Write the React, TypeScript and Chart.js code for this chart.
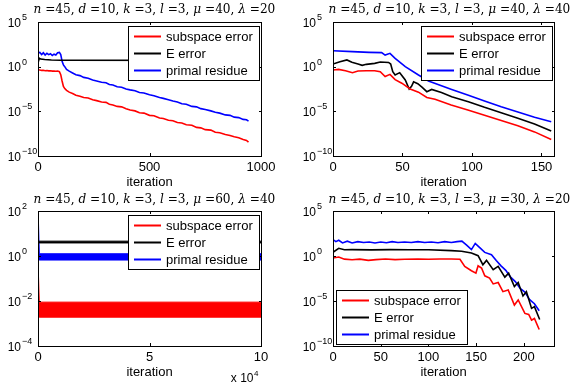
import React, { useEffect, useRef } from "react";
import { Chart, registerables } from "chart.js";
Chart.register(...registerables);

// ---------- shared ----------
const seriesLabels = ["subspace error", "E error", "primal residue"];
const seriesColors = ["#ff0000", "#000000", "#0000ff"];
const xAxisLabel = "iteration";
const titleSymbols = ["n", "d", "k", "l", "μ", "λ"];

// ---------- panel 1 ----------
const p1TitleValues = ["45", "10", "3", "3", "40", "20"];
const p1XTicks = [0, 500, 1000];
const p1YTicks = [1e-10, 1e-5, 1, 1e5];
const p1Iter = [0, 8, 16, 24, 32, 40, 48, 56, 64, 72, 80, 88, 96, 102, 108, 114, 120, 128, 140, 155, 170, 188, 205, 225, 245, 263, 285, 305, 320, 336, 355, 375, 395, 413, 435, 455, 475, 500, 520, 545, 562, 585, 605, 625, 645, 665, 690, 711, 730, 750, 775, 795, 815, 840, 861, 880, 900, 920, 935, 944];
const p1SubspaceLog = [-0.35, -0.38, -0.42, -0.4, -0.45, -0.43, -0.47, -0.45, -0.5, -0.48, -0.52, -0.5, -0.55, -0.9, -1.6, -2.2, -2.45, -2.65, -2.85, -3.0, -3.2, -3.3, -3.45, -3.5, -3.7, -3.8, -3.95, -4.0, -4.2, -4.3, -4.45, -4.5, -4.7, -4.85, -4.95, -5.15, -5.2, -5.45, -5.5, -5.75, -5.8, -6.0, -6.05, -6.25, -6.3, -6.5, -6.55, -6.8, -6.85, -7.05, -7.1, -7.35, -7.4, -7.6, -7.7, -7.85, -7.95, -8.15, -8.25, -8.45];
const p1PrimalLog = [1.55, 1.6, 1.35, 1.55, 1.3, 1.5, 1.35, 1.45, 1.25, 1.4, 1.3, 1.55, 1.6, 1.35, 0.6, 0.2, 0.0, -0.3, -0.5, -0.7, -0.9, -1.0, -1.2, -1.3, -1.5, -1.6, -1.75, -1.8, -2.0, -2.05, -2.25, -2.3, -2.5, -2.6, -2.7, -2.9, -2.95, -3.15, -3.25, -3.45, -3.55, -3.7, -3.85, -3.95, -4.15, -4.2, -4.45, -4.5, -4.7, -4.8, -4.95, -5.1, -5.2, -5.4, -5.45, -5.65, -5.7, -5.9, -5.95, -6.1];
const p1EIter = [0, 6, 12, 30, 60, 100, 944];
const p1ELog = [0.45, 0.95, 0.85, 0.8, 0.75, 0.72, 0.7];

// ---------- panel 2 ----------
const p2TitleValues = ["45", "10", "3", "3", "40", "40"];
const p2XTicks = [0, 50, 100, 150];
const p2YTicks = [1e-10, 1e-5, 1, 1e5];
const p2SubspaceIter = [0, 4, 9, 14, 18, 24, 30, 34, 37.5, 41, 44.7, 49.5, 55.5, 61.5, 67.5, 73.4, 85, 97, 109, 121, 133, 145, 157];
const p2SubspaceLog = [-0.37, -0.3, -0.45, -0.67, -0.48, -0.45, -0.45, -0.56, -1.1, -0.86, -1.45, -1.85, -2.5, -2.85, -3.45, -3.65, -4.29, -4.85, -5.45, -6.02, -6.62, -7.3, -8.15];
const p2EIter = [0, 5, 10, 13.6, 18, 21, 24, 30, 34, 40, 41.5, 43, 44.7, 48, 52, 54.8, 56.5, 58, 61, 64, 67.5, 71, 78, 85.4, 97.4, 109, 121, 133, 145, 157];
const p2ELog = [0.3, 0.55, 0.75, 0.5, 0.3, 0.15, 0.26, 0.37, 0.52, 0.47, 0.3, -0.56, -0.93, -0.67, -1.49, -2.5, -2.2, -1.7, -1.9, -2.3, -2.8, -2.55, -2.9, -3.36, -3.92, -4.55, -5.15, -5.78, -6.42, -7.2];
const p2PrimalIter = [0, 14, 26, 35, 37.5, 41, 44.7, 52, 61.5, 68.7, 85.4, 97.4, 109, 121, 133, 145, 157];
const p2PrimalLog = [1.79, 1.68, 1.6, 1.57, 1.3, 1.49, 0.93, 0.0, -0.93, -1.6, -2.55, -3.2, -3.84, -4.48, -5.07, -5.67, -6.16];

// ---------- panel 3 ----------
const p3TitleValues = ["45", "10", "3", "3", "60", "40"];
const p3XTicks = [0, 50000, 100000];
const p3YTicks = [1e-4, 1e-2, 1, 1e2];
const p3Iter = [0, 600, 100000];
const p3SubspaceUpperLog = [-0.2, -2.05, -2.05];
const p3SubspaceLowerLog = [-2.72, -2.72, -2.72];
const p3EUpperLog = [0.66, 0.66, 0.66];
const p3ELowerLog = [0.58, 0.58, 0.58];
const p3PrimalUpperLog = [2.3, 0.1, 0.1];
const p3PrimalLowerLog = [-0.18, -0.18, -0.18];

// ---------- panel 4 ----------
const p4TitleValues = ["45", "10", "3", "3", "30", "20"];
const p4XTicks = [0, 50, 100, 150, 200];
const p4YTicks = [1e-10, 1e-5, 1, 1e5];
const p4SubspaceIter = [0, 6, 12, 20, 28, 37, 45, 55, 65, 75, 89, 100, 112, 124, 133, 138, 145, 149.7, 152, 155.6, 159, 164, 167.8, 173, 178, 183.5, 190, 194, 201, 205, 208, 211, 216];
const p4SubspaceLog = [-0.22, -0.11, -0.35, -0.41, -0.35, -0.49, -0.4, -0.34, -0.4, -0.36, -0.34, -0.36, -0.34, -0.34, -0.36, -1.16, -1.64, -1.9, -1.08, -1.34, -2.2, -2.46, -3.1, -2.95, -3.96, -3.77, -5.45, -4.89, -6.38, -6.5, -7.13, -6.94, -8.17];
const p4EIter = [0, 6, 12, 20, 40, 60, 80, 100, 124, 134.7, 145, 152, 157, 160.8, 167.8, 173, 180, 184, 190, 194, 199, 202.6, 208, 211, 216.5];
const p4ELog = [0.41, 0.86, 0.7, 0.71, 0.68, 0.71, 0.7, 0.7, 0.6, 0.52, 0.34, 0.04, -0.97, -0.49, -1.53, -1.16, -2.35, -1.9, -3.4, -2.95, -4.44, -3.96, -5.82, -5.63, -7.05];
const p4PrimalIter = [0, 3, 6, 10, 15, 20, 26, 32, 38, 44, 50, 56, 62, 68, 75, 82, 89, 96, 103, 110, 117, 124, 130, 135, 140, 145, 149, 152, 159, 166, 171, 176, 181, 186, 191, 196, 201, 206, 211, 216];
const p4PrimalLog = [1.83, 1.6, 1.75, 1.45, 1.65, 1.45, 1.6, 1.5, 1.55, 1.45, 1.55, 1.48, 1.6, 1.5, 1.55, 1.5, 1.6, 1.5, 1.55, 1.48, 1.6, 1.5, 1.6, 1.65, 1.2, 0.71, 1.4, 1.1, 0.4, 0.15, -0.5, -1.1, -1.6, -2.35, -2.85, -3.6, -4.0, -4.85, -5.3, -6.08];

// ---------- helpers ----------
const pts = (xs: number[], logs: number[]) => xs.map((x, i) => ({ x, y: Math.pow(10, logs[i]) }));

function lineDs(label: string, data: any[], color: string) {
  return { label, data, borderColor: color, backgroundColor: color, borderWidth: 1.6, pointRadius: 0, fill: false, tension: 0 };
}
function bandDs(label: string, upper: any[], lower: any[], color: string) {
  return [
    { label, data: upper, borderColor: color, backgroundColor: color, borderWidth: 1, pointRadius: 0, fill: "+1", tension: 0 },
    { label: label + " (lower)", data: lower, borderColor: color, backgroundColor: color, borderWidth: 1, pointRadius: 0, fill: false, tension: 0 },
  ];
}

const SANS = '"Liberation Sans", Arial, Helvetica, sans-serif';
const SERIF = '"DejaVu Serif", "Liberation Serif", serif';

function drawTitle(ctx: CanvasRenderingContext2D, values: string[], x0: number, baseline: number, targetW: number) {
  const segs: { t: string; it: boolean }[] = [];
  titleSymbols.forEach((s, i) => {
    segs.push({ t: s, it: true });
    segs.push({ t: " =" + values[i] + (i < titleSymbols.length - 1 ? ", " : ""), it: false });
  });
  const measure = (size: number) =>
    segs.reduce((acc, g) => {
      ctx.font = `${g.it ? "italic " : ""}${size}px ${SERIF}`;
      return acc + ctx.measureText(g.t).width;
    }, 0);
  const size = (11 * targetW) / measure(11);
  let x = x0;
  ctx.fillStyle = "#000";
  ctx.textAlign = "left";
  ctx.textBaseline = "alphabetic";
  for (const g of segs) {
    ctx.font = `${g.it ? "italic " : ""}${size}px ${SERIF}`;
    ctx.fillText(g.t, x, baseline);
    x += ctx.measureText(g.t).width;
  }
}

function drawLegend(ctx: CanvasRenderingContext2D, a: any, corner: string) {
  ctx.font = `13px ${SANS}`;
  const tw = Math.max(...seriesLabels.map((l) => ctx.measureText(l).width));
  const w = Math.round(6 + 27 + 5 + tw + 6);
  const h = 54;
  let bx: number, by: number;
  if (corner === "ne") {
    bx = a.right - 2 - w;
    by = a.top + 4;
  } else {
    bx = a.left + 3;
    by = a.bottom - 2 - h;
  }
  bx = Math.round(bx);
  by = Math.round(by);
  ctx.fillStyle = "#fff";
  ctx.fillRect(bx, by, w, h);
  ctx.strokeStyle = "#000";
  ctx.lineWidth = 1;
  ctx.strokeRect(bx + 0.5, by + 0.5, w, h);
  seriesLabels.forEach((lab, i) => {
    const cy = by + 10.5 + 17 * i;
    ctx.strokeStyle = seriesColors[i];
    ctx.lineWidth = 2;
    ctx.beginPath();
    ctx.moveTo(bx + 6, cy);
    ctx.lineTo(bx + 33, cy);
    ctx.stroke();
    ctx.fillStyle = "#000";
    ctx.textAlign = "left";
    ctx.textBaseline = "middle";
    ctx.font = `13px ${SANS}`;
    ctx.fillText(lab, bx + 38, cy + 0.5);
  });
}

function makePlugin(p: any) {
  return {
    id: "decor_" + p.key,
    afterDatasetsDraw(chart: any) {
      const { ctx, chartArea: a, scales } = chart;
      const xs = scales.x;
      const ys = scales.y;
      ctx.save();
      // box
      ctx.strokeStyle = "#000";
      ctx.lineWidth = 1;
      ctx.strokeRect(a.left + 0.5, a.top + 0.5, a.right - a.left, a.bottom - a.top);
      // inward ticks
      ctx.beginPath();
      for (const v of p.xTicks) {
        const px = Math.round(xs.getPixelForValue(v)) + 0.5;
        ctx.moveTo(px, a.bottom);
        ctx.lineTo(px, a.bottom - 3);
        ctx.moveTo(px, a.top);
        ctx.lineTo(px, a.top + 3);
      }
      for (const v of p.yTicks) {
        const py = Math.round(ys.getPixelForValue(v)) + 0.5;
        ctx.moveTo(a.left, py);
        ctx.lineTo(a.left + 3, py);
        ctx.moveTo(a.right + 1, py);
        ctx.lineTo(a.right - 2, py);
      }
      ctx.stroke();
      // legend
      drawLegend(ctx, a, p.legend);
      // y tick labels (10 with superscript exponent)
      ctx.fillStyle = "#000";
      for (const v of p.yTicks) {
        const py = ys.getPixelForValue(v);
        const e = String(Math.round(Math.log10(v))).replace("-", "−");
        ctx.font = `12px ${SANS}`;
        ctx.textAlign = "right";
        ctx.textBaseline = "middle";
        ctx.fillText("10", a.left - 17, py + 1.5);
        ctx.font = `9px ${SANS}`;
        ctx.textAlign = "left";
        ctx.fillText(e, a.left - 16, py - 4.5);
      }
      // title
      drawTitle(ctx, p.title, a.left - 4.5, 13, 242);
      // x multiplier note
      if (p.xNote) {
        ctx.font = `12px ${SANS}`;
        ctx.textAlign = "right";
        ctx.textBaseline = "middle";
        ctx.fillText("x 10", a.right - 7.5, a.bottom + 33);
        ctx.font = `8px ${SANS}`;
        ctx.textAlign = "left";
        ctx.fillText(p.xNote, a.right - 7, a.bottom + 28);
      }
      ctx.restore();
    },
  };
}

const panels = [
  {
    key: "p1", left: 0, top: 0, w: 285, h: 190,
    area: { l: 38, r: 261, t: 22, b: 156 },
    xMax: 1000, xTicks: p1XTicks, yMin: 1e-10, yMax: 1e5, yTicks: p1YTicks,
    legend: "ne", title: p1TitleValues, xNote: null, xDiv: 1,
    datasets: [
      lineDs(seriesLabels[0], pts(p1Iter, p1SubspaceLog), seriesColors[0]),
      lineDs(seriesLabels[1], pts(p1EIter, p1ELog), seriesColors[1]),
      lineDs(seriesLabels[2], pts(p1Iter, p1PrimalLog), seriesColors[2]),
    ],
  },
  {
    key: "p2", left: 285, top: 0, w: 286, h: 190,
    area: { l: 48, r: 269, t: 22, b: 156 },
    xMax: 159, xTicks: p2XTicks, yMin: 1e-10, yMax: 1e5, yTicks: p2YTicks,
    legend: "ne", title: p2TitleValues, xNote: null, xDiv: 1,
    datasets: [
      lineDs(seriesLabels[0], pts(p2SubspaceIter, p2SubspaceLog), seriesColors[0]),
      lineDs(seriesLabels[1], pts(p2EIter, p2ELog), seriesColors[1]),
      lineDs(seriesLabels[2], pts(p2PrimalIter, p2PrimalLog), seriesColors[2]),
    ],
  },
  {
    key: "p3", left: 0, top: 190, w: 285, h: 197,
    area: { l: 38, r: 261, t: 21, b: 156 },
    xMax: 100000, xTicks: p3XTicks, yMin: 1e-4, yMax: 1e2, yTicks: p3YTicks,
    legend: "ne", title: p3TitleValues, xNote: "4", xDiv: 1e4,
    datasets: [
      ...bandDs(seriesLabels[0], pts(p3Iter, p3SubspaceUpperLog), pts(p3Iter, p3SubspaceLowerLog), seriesColors[0]),
      ...bandDs(seriesLabels[1], pts(p3Iter, p3EUpperLog), pts(p3Iter, p3ELowerLog), seriesColors[1]),
      ...bandDs(seriesLabels[2], pts(p3Iter, p3PrimalUpperLog), pts(p3Iter, p3PrimalLowerLog), seriesColors[2]),
    ],
  },
  {
    key: "p4", left: 285, top: 190, w: 286, h: 197,
    area: { l: 48, r: 269, t: 21, b: 156 },
    xMax: 231.5, xTicks: p4XTicks, yMin: 1e-10, yMax: 1e5, yTicks: p4YTicks,
    legend: "sw", title: p4TitleValues, xNote: null, xDiv: 1,
    datasets: [
      lineDs(seriesLabels[0], pts(p4SubspaceIter, p4SubspaceLog), seriesColors[0]),
      lineDs(seriesLabels[1], pts(p4EIter, p4ELog), seriesColors[1]),
      lineDs(seriesLabels[2], pts(p4PrimalIter, p4PrimalLog), seriesColors[2]),
    ],
  },
];

const X_AXIS_H = 34;

function Panel({ p }: { p: any }) {
  const ref = useRef<HTMLCanvasElement>(null);
  useEffect(() => {
    if (!ref.current) return;
    const chart = new Chart(ref.current, {
      type: "line",
      data: { datasets: p.datasets },
      options: {
        animation: false,
        responsive: false,
        maintainAspectRatio: false,
        events: [],
        layout: {
          padding: { left: 0, right: p.w - p.area.r, top: p.area.t, bottom: p.h - p.area.b - X_AXIS_H },
        },
        plugins: { legend: { display: false }, tooltip: { enabled: false }, title: { display: false } },
        scales: {
          x: {
            type: "linear",
            min: 0,
            max: p.xMax,
            afterBuildTicks: (s: any) => { s.ticks = p.xTicks.map((v: number) => ({ value: v })); },
            afterFit: (s: any) => { s.height = X_AXIS_H; },
            grid: { display: false, drawTicks: false },
            border: { display: false },
            ticks: {
              color: "#000",
              padding: 4,
              maxRotation: 0,
              autoSkip: false,
              font: { family: SANS, size: 13 },
              callback: (v: any) => String(Number(v) / p.xDiv),
            },
            title: {
              display: true,
              text: xAxisLabel,
              color: "#000",
              font: { family: SANS, size: 13, lineHeight: 1.12 },
              padding: { top: 0, bottom: 0 },
            },
          },
          y: {
            type: "logarithmic",
            min: p.yMin,
            max: p.yMax,
            afterBuildTicks: (s: any) => { s.ticks = p.yTicks.map((v: number) => ({ value: v })); },
            afterFit: (s: any) => { s.width = p.area.l; },
            grid: { display: false, drawTicks: false },
            border: { display: false },
            ticks: { display: false },
          },
        },
      },
      plugins: [makePlugin(p)],
    } as any);
    return () => chart.destroy();
  }, [p]);
  return (
    <canvas
      ref={ref}
      width={p.w}
      height={p.h}
      style={{ position: "absolute", left: p.left, top: p.top, width: p.w, height: p.h }}
    />
  );
}

export default function App() {
  return (
    <div style={{ position: "absolute", left: 0, top: 0, width: 571, height: 387, background: "#fff", overflow: "hidden" }}>
      {panels.map((p) => (
        <Panel key={p.key} p={p} />
      ))}
    </div>
  );
}
